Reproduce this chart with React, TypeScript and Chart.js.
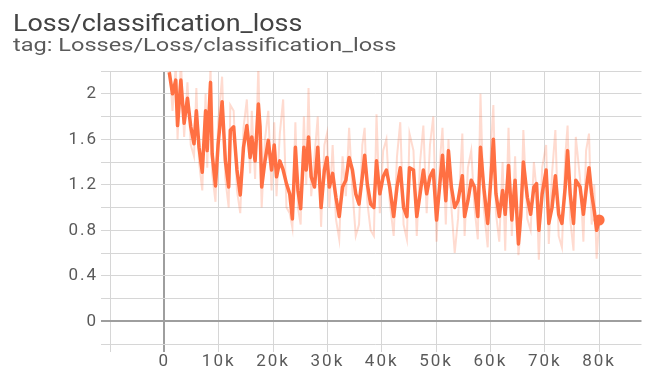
import React, { useEffect, useRef } from "react";
import { Chart, registerables } from "chart.js";

Chart.register(...registerables);

// ---- data ----
const steps = [
  900, 1500, 2100, 2430, 3040, 3640, 4250, 4860, 5460, 5890,
  6380, 6980, 7590, 7890, 8500, 8800, 9410, 9900, 10630, 11230,
  11840, 12140, 12750, 13360, 13970, 14570, 15180, 15790, 16090, 16700,
  17300, 17610, 17910, 18520, 19130, 19730, 20220, 20640, 21250, 21860,
  22470, 23070, 23560, 24110, 24590, 25080, 25680, 26110, 26530, 27020,
  27630, 28230, 28840, 29450, 29930, 30360, 30970, 31570, 32180, 32790,
  33400, 34000, 34610, 35220, 35820, 36430, 36860, 37340, 37950, 38560,
  39040, 39650, 40260, 40860, 41470, 42200, 42810, 43410, 44020, 44630,
  45110, 45840, 46450, 47060, 47660, 48270, 48880, 49480, 50090, 50700,
  51180, 51790, 52280, 52820, 53430, 54040, 54830, 55250, 55860, 56470,
  57070, 57680, 58170, 58770, 59500, 60110, 60540, 61020, 61630, 62240,
  62720, 63330, 63940, 64540, 65150, 65570, 66060, 66790, 67400, 68000,
  68490, 68910, 69520, 70250, 70740, 71340, 71950, 72560, 73160, 73770,
  74200, 74680, 75290, 75710, 76500, 77110, 77600, 78140, 78630, 79110,
  79540, 80000,
];

const smoothed = [
  2.19, 2.0, 2.12, 1.72, 2.12, 1.74, 1.96, 1.71, 1.56, 1.85,
  1.53, 1.31, 1.85, 1.5, 2.1, 1.47, 1.19, 1.56, 1.93, 1.41,
  1.18, 1.68, 1.71, 1.33, 1.11, 1.53, 1.72, 1.44, 1.62, 1.41,
  1.91, 1.71, 1.18, 1.41, 1.59, 1.33, 1.55, 1.27, 1.41, 1.33,
  1.21, 1.12, 0.9, 1.53, 1.15, 0.99, 1.53, 1.33, 1.62, 1.27,
  1.18, 1.53, 1.0, 1.33, 1.44, 1.18, 1.3, 1.09, 0.92, 1.18,
  1.24, 1.44, 1.33, 1.12, 1.03, 1.27, 1.46, 1.21, 1.03, 1.0,
  1.41, 1.12, 1.27, 1.33, 1.18, 0.92, 1.18, 1.35, 1.0, 0.92,
  1.35, 1.33, 0.92, 1.12, 1.33, 1.12, 1.27, 1.33, 0.89, 1.21,
  1.46, 1.06, 1.5, 1.18, 1.0, 1.06, 1.28, 0.92, 1.06, 1.24,
  1.18, 0.92, 1.53, 1.18, 0.86, 1.27, 1.6, 1.12, 0.92, 1.15,
  0.94, 1.37, 0.89, 1.24, 0.68, 0.92, 1.4, 1.09, 0.94, 1.18,
  1.21, 0.8, 1.12, 1.33, 0.86, 1.0, 1.28, 0.94, 0.86, 1.18,
  1.5, 1.12, 0.86, 1.24, 1.18, 0.94, 1.15, 1.35, 1.12, 0.97,
  0.8, 0.89,
];

const raw = [
  2.3, 1.85, 2.25, 1.6, 2.3, 1.62, 2.1, 1.55, 1.45, 2.05,
  1.4, 1.15, 2.0, 1.35, 2.25, 1.3, 1.05, 1.75, 2.15, 1.25,
  1.0, 1.9, 1.85, 1.15, 0.95, 1.7, 1.95, 1.3, 1.85, 1.25,
  2.25, 1.55, 1.0, 1.6, 1.85, 1.15, 1.75, 1.1, 1.65, 1.95,
  1.0, 0.95, 0.82, 1.75, 1.0, 0.85, 1.8, 1.2, 2.05, 1.1,
  1.45, 1.8, 0.83, 1.55, 1.65, 1.0, 1.55, 0.9, 0.72, 1.45,
  1.1, 1.7, 1.15, 0.75, 0.85, 1.55, 1.7, 1.05, 0.8, 0.75,
  1.82, 0.95, 1.5, 1.6, 1.05, 0.75, 1.45, 1.75, 0.85, 0.72,
  1.65, 1.5, 0.75, 1.4, 1.72, 0.95, 1.55, 1.8, 0.7, 1.4,
  1.7, 0.85, 1.6, 1.0, 0.6, 0.9, 1.65, 0.75, 1.35, 1.5,
  1.0, 0.72, 2.0, 1.0, 0.65, 1.55, 1.9, 0.95, 0.7, 1.4,
  0.62, 1.7, 0.75, 1.45, 0.58, 0.8, 1.68, 0.9, 0.8, 1.4,
  1.15, 0.54, 1.35, 1.55, 0.68, 1.3, 1.68, 0.75, 0.65, 1.45,
  1.72, 0.9, 0.62, 1.62, 1.25, 0.7, 1.5, 1.65, 0.85, 1.2,
  0.55, 0.88,
];

const xTickValues = [-10000, 0, 10000, 20000, 30000, 40000, 50000, 60000, 70000, 80000];
const xTickLabels = ["", "0", "10k", "20k", "30k", "40k", "50k", "60k", "70k", "80k"];
const yTickValues = [-0.2, 0, 0.2, 0.4, 0.6, 0.8, 1.0, 1.2, 1.4, 1.6, 1.8, 2.0, 2.2];
const yTickLabels = ["", "0", "", "0.4", "", "0.8", "", "1.2", "", "1.6", "", "2", ""];

const xMin = -10000;
const xMax = 87800;
const yMin = -0.2;
const yMax = 2.2;

const titleText = "Loss/classification_loss";
const subtitleText = "tag: Losses/Loss/classification_loss";

const ORANGE = "#ff7043";

const spacingPlugin = {
  id: "letterSpacingPlugin",
  beforeDraw(chart: any) {
    (chart.ctx as any).letterSpacing = "2px";
  },
};

export default function App() {
  const ref = useRef<HTMLCanvasElement | null>(null);

  useEffect(() => {
    const canvas = ref.current;
    if (!canvas) return;
    const gridColor = (c: any) => (c.tick && c.tick.value === 0 ? "#9e9e9e" : "#d6d6d6");
    const gridWidth = (c: any) => (c.tick && c.tick.value === 0 ? 2 : 1);
    const chart = new Chart(canvas, {
      type: "line",
      data: {
        datasets: [
          {
            label: "last",
            data: [{ x: steps[steps.length - 1], y: smoothed[smoothed.length - 1] }],
            showLine: false,
            pointRadius: 5.5,
            pointBackgroundColor: ORANGE,
            pointBorderWidth: 0,
            order: 0,
          },
          {
            label: "smoothed",
            data: steps.map((s, i) => ({ x: s, y: smoothed[i] })),
            borderColor: ORANGE,
            borderWidth: 3.5,
            borderJoinStyle: "round",
            pointRadius: 0,
            tension: 0,
            clip: 0,
            order: 1,
          },
          {
            label: "raw",
            data: steps.map((s, i) => ({ x: s, y: raw[i] })),
            borderColor: "rgba(255,112,67,0.25)",
            borderWidth: 2,
            pointRadius: 0,
            tension: 0,
            clip: 0,
            order: 2,
          },
        ],
      } as any,
      options: {
        animation: false,
        responsive: false,
        devicePixelRatio: 1,
        layout: { padding: { top: 71, left: 0, right: 0, bottom: 0 } },
        plugins: {
          legend: { display: false },
          tooltip: { enabled: false },
        },
        scales: {
          x: {
            type: "linear",
            min: xMin,
            max: xMax,
            afterBuildTicks: (s: any) => {
              s.ticks = xTickValues.map((v) => ({ value: v }));
            },
            afterFit: (s: any) => {
              s.height = 31;
            },
            ticks: {
              callback: (_v: any, i: number) => xTickLabels[i] ?? "",
              color: "#5a5a5a",
              font: { size: 17, family: "Roboto" },
              padding: 0,
              maxRotation: 0,
              autoSkip: false,
            },
            grid: { color: gridColor, lineWidth: gridWidth, tickLength: 8 },
            border: { display: false },
          },
          y: {
            type: "linear",
            min: yMin,
            max: yMax,
            afterBuildTicks: (s: any) => {
              s.ticks = yTickValues.map((v) => ({ value: v }));
            },
            afterFit: (s: any) => {
              s.width = 110;
            },
            ticks: {
              callback: (_v: any, i: number) => yTickLabels[i] ?? "",
              color: "#5a5a5a",
              font: { size: 17, family: "Roboto" },
              padding: 3,
              autoSkip: false,
            },
            grid: { color: gridColor, lineWidth: gridWidth, tickLength: 9 },
            border: { display: false },
          },
        },
      } as any,
      plugins: [spacingPlugin as any],
    });
    return () => chart.destroy();
  }, []);

  return (
    <div
      style={{
        position: "fixed",
        left: 0,
        top: 0,
        width: 647,
        height: 375,
        background: "#fff",
        overflow: "hidden",
      }}
    >
      <canvas
        ref={ref}
        width={647}
        height={375}
        style={{ position: "absolute", left: 0, top: 0, width: 647, height: 375 }}
      />
      <div
        style={{
          position: "absolute",
          left: 13,
          top: 12,
          fontFamily: "Roboto",
          fontSize: 23,
          lineHeight: "23px",
          color: "#444",
          whiteSpace: "nowrap",
          transform: "scaleX(1.17)",
          transformOrigin: "left top",
        }}
      >
        {titleText}
      </div>
      <div
        style={{
          position: "absolute",
          left: 13,
          top: 35,
          fontFamily: "Roboto",
          fontSize: 19,
          lineHeight: "19px",
          color: "#5a5a5a",
          whiteSpace: "nowrap",
          transform: "scaleX(1.24)",
          transformOrigin: "left top",
        }}
      >
        {subtitleText}
      </div>
    </div>
  );
}
